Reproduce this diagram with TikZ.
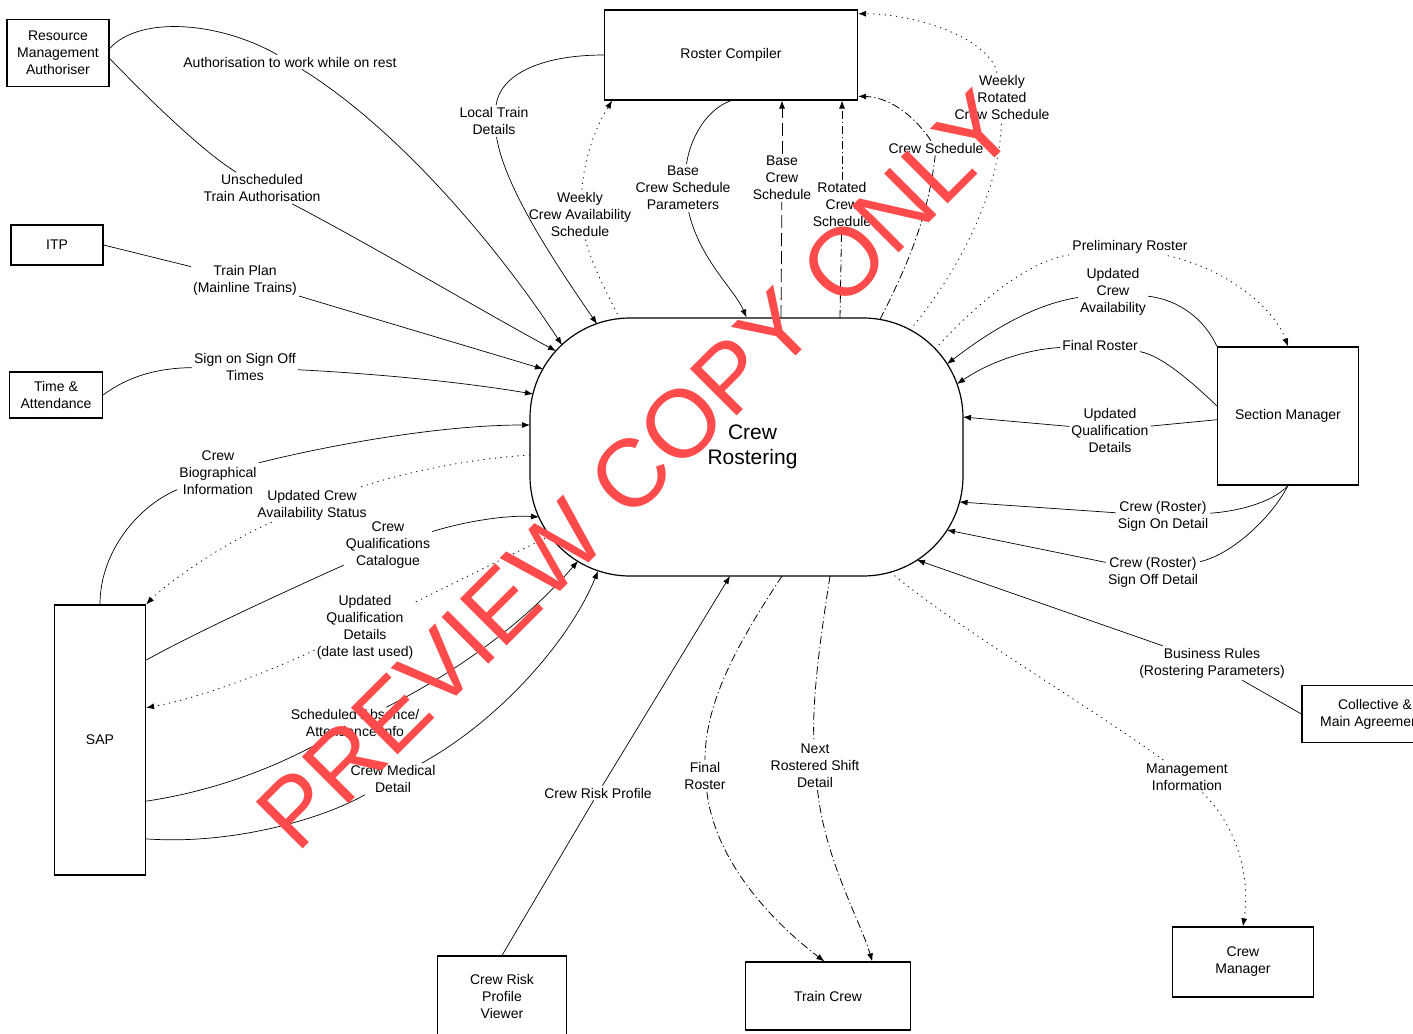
\documentclass[tikz,border=0pt]{standalone}
\usepackage{fontspec}
\setmainfont{Liberation Sans}
\usetikzlibrary{arrows.meta,calc}
\definecolor{wmred}{RGB}{255,75,75}
\begin{document}
\begin{tikzpicture}[x=1pt,y=-1pt,
  box/.style={draw,line width=1.2pt,align=center,inner sep=2pt,font=\fontsize{14}{17}\selectfont},
  flowlbl/.style={align=center,inner sep=2pt,font=\fontsize{14}{17}\selectfont},
  solidline/.style={line width=0.7pt},
  dotline/.style={line width=0.8pt,dash pattern=on 1.2pt off 4.5pt},
  dashdotline/.style={line width=0.8pt,dash pattern=on 8pt off 3pt on 1.2pt off 3pt},
  dashline/.style={line width=0.8pt,dash pattern=on 13pt off 5pt},
  arrowend/.style={-{Latex[length=8pt,width=6pt]}}]
\useasboundingbox (0,0) rectangle (1413,1033);
\clip (0,0) rectangle (1413,1033);

% terminators
\node [box,name=rma,minimum width=102pt,minimum height=67pt] at (58,53){Resource\\Management\\Authoriser};
\node [box,name=itp,minimum width=92pt,minimum height=40pt] at (57,245){ITP};
\node [box,name=ta,minimum width=93pt,minimum height=46pt] at (56,395){Time \&\\Attendance};
\node [box,name=sap,minimum width=91pt,minimum height=270pt] at (100,740){SAP};
\node [box,name=rc,minimum width=253pt,minimum height=90pt] at (731,55){Roster Compiler};
\node [box,name=sm,minimum width=141pt,minimum height=138pt] at (1288,416){Section Manager};
\node [box,name=cma,minimum width=146pt,minimum height=57pt] at (1375,714){Collective \&\\Main Agreements};
\node [box,name=crpv,minimum width=129pt,minimum height=80pt] at (502,996){Crew Risk\\Profile\\Viewer};
\node [box,name=tc,minimum width=165pt,minimum height=68pt] at (828,996){Train Crew};
\node [box,name=cm,minimum width=141pt,minimum height=70pt] at (1243,962){Crew\\Manager};

% the process
\node [draw,rounded corners=100pt,line width=1.2pt,minimum width=433pt,minimum height=258pt,
  align=center,font=\fontsize{21}{25}\selectfont,name=cr] at (746.5,447){\hspace*{12pt}Crew\\\hspace*{12pt}Rostering};

% flow labels
\node [flowlbl,name=l1] at (290,62){Authorisation to work while on rest};
\node [flowlbl,name=l2] at (262,188){Unscheduled\\Train Authorisation};
\node [flowlbl,name=l3] at (245,280){Train Plan\\(Mainline Trains)};
\node [flowlbl,name=l4] at (245,367){Sign on Sign Off\\Times};
\node [flowlbl,name=l5] at (218,473){Crew\\Biographical\\Information};
\node [flowlbl,name=l6] at (312,505){Updated Crew\\Availability Status};
\node [flowlbl,name=l7] at (388,545){Crew\\Qualifications\\Catalogue};
\node [flowlbl,name=l8] at (365,627){Updated\\Qualification\\Details\\(date last used)};
\node [flowlbl,name=l9] at (355,723){Scheduled Absence/\\Attendance Info};
\node [flowlbl,name=l10] at (393,779){Crew Medical\\Detail};
\node [flowlbl,name=l11] at (598,793){Crew Risk Profile};
\node [flowlbl,name=l12] at (705,776){Final\\Roster};
\node [flowlbl,name=l13] at (815,766){Next\\Rostered Shift\\Detail};
\node [flowlbl,name=l14] at (1187,777){Management\\Information};
\node [flowlbl,name=l15] at (1212,663){Business Rules\\(Rostering Parameters)};
\node [flowlbl,name=l16] at (1153,572){Crew (Roster)\\Sign Off Detail};
\node [flowlbl,name=l17] at (1163,516){Crew (Roster)\\Sign On Detail};
\node [flowlbl,name=l18] at (1110,430){Updated\\Qualification\\Details};
\node [flowlbl,name=l19] at (1100,345){Final Roster};
\node [flowlbl,name=l20] at (1113,292){Updated\\Crew\\Availability};
\node [flowlbl,name=l21] at (1130,247){Preliminary Roster};
\node [flowlbl,name=l22] at (1002,97){Weekly\\Rotated\\Crew Schedule};
\node [flowlbl,name=l23] at (936,148){Crew Schedule};
\node [flowlbl,name=l24] at (842,204){Rotated\\Crew\\Schedule};
\node [flowlbl,name=l25] at (782,178){Base\\Crew\\Schedule};
\node [flowlbl,name=l26] at (683,188){Base\\Crew Schedule\\Parameters};
\node [flowlbl,name=l27] at (580,214){Weekly\\Crew Availability\\Schedule};
\node [flowlbl,name=l28] at (494,121){Local Train\\Details};

% left side flows
\draw[solidline] (rma.5) .. controls (140,15) and (220,22) .. (l1);
\draw[solidline,arrowend] (l1) .. controls (400,130) and (500,250) .. ($(cr)+(-184.5,-102)$);
\draw[solidline] (rma.-6) .. controls (140,90) and (200,150) .. (l2);
\draw[solidline,arrowend] (l2) .. controls (380,250) and (480,310) .. ($(cr)+(-190.5,-96)$);
\draw[solidline] (itp.east)--(l3);
\draw[solidline,arrowend] (l3)--($(cr)+(-203.5,-78)$);
\draw[solidline] (ta.east) .. controls (130,375) and (160,368) .. (l4);
\draw[solidline,arrowend] (l4) .. controls (400,375) and (480,385) .. ($(cr)+(-213.5,-53)$);
\draw[solidline] (sap.north) .. controls (100,550) and (140,505) .. (l5);
\draw[solidline,arrowend] (l5) .. controls (330,445) and (440,425) .. ($(cr)+(-216.5,-22)$);
\draw[dotline] ($(cr)+(-216.5,8)$) .. controls (450,460) and (380,480) .. (l6);
\draw[dotline,arrowend] (l6) .. controls (230,540) and (170,580) .. (sap.north east);
\draw[solidline] (sap.60) .. controls (200,630) and (300,585) .. (l7);
\draw[solidline,arrowend] (l7) .. controls (470,520) and (510,515) .. ($(cr)+(-207.5,70)$);
\draw[dotline] ($(cr)+(-196.5,89)$) .. controls (500,560) and (450,585) .. (l8);
\draw[dotline,arrowend] (l8) .. controls (250,680) and (190,700) .. (sap.35);
\draw[solidline] (sap.-53) .. controls (220,790) and (280,765) .. (l9);
\draw[solidline,arrowend] (l9) .. controls (480,660) and (540,605) .. ($(cr)+(-168.5,114)$);
\draw[solidline] (sap.-65) .. controls (230,845) and (320,820) .. (l10);
\draw[solidline,arrowend] (l10) .. controls (500,720) and (570,640) .. ($(cr)+(-148.5,124)$);

% top flows
\draw[solidline] (rc.west) .. controls (540,55) and (500,75) .. (l28);
\draw[solidline,arrowend] (l28) .. controls (505,190) and (560,270) .. ($(cr)+(-149.5,-123)$);
\draw[dotline] ($(cr)+(-126.5,-128)$) .. controls (605,290) and (590,260) .. (l27);
\draw[dotline,arrowend] (l27) .. controls (585,150) and (600,120) .. (rc.-159);
\draw[solidline] (rc.south) .. controls (705,110) and (690,140) .. (l26);
\draw[solidline,arrowend] (l26) .. controls (700,260) and (735,290) .. (cr.north);
\draw[dashline] ($(cr)+(34.5,-129)$)--(l25);
\draw[dashline,arrowend] (l25)--(l25 |- rc.south);
\draw[dashdotline] ($(cr)+(93.5,-129)$)--(l24);
\draw[dashdotline,arrowend] (l24)--(l24 |- rc.south);
\draw[dashdotline] ($(cr)+(133.5,-127.5)$) .. controls (905,270) and (928,220) .. (l23);
\draw[dashdotline,arrowend] (l23) .. controls (910,110) and (885,97) .. (rc.-18);
\draw[dotline] ($(cr)+(163.5,-117)$) .. controls (960,270) and (1000,190) .. (l22);
\draw[dotline,arrowend] (l22) .. controls (990,40) and (920,14) .. (rc.18);

% right side flows
\draw[dotline] ($(cr)+(188.5,-98)$) .. controls (980,300) and (1030,260) .. (l21);
\draw[dotline,arrowend] (l21) .. controls (1230,270) and (1275,310) .. (sm.north);
\draw[solidline] (sm.north west) .. controls (1205,320) and (1180,300) .. (l20);
\draw[solidline,arrowend] (l20) .. controls (1030,305) and (985,335) .. ($(cr)+(200.5,-83)$);
\draw[solidline] (sm.172) .. controls (1190,380) and (1160,355) .. (l19);
\draw[solidline,arrowend] (l19) .. controls (1020,350) and (985,365) .. ($(cr)+(210.5,-63)$);
\draw[solidline] (sm.183)--(l18);
\draw[solidline,arrowend] (l18)--($(cr)+(216.5,-30)$);
\draw[solidline] (sm.south) .. controls (1270,505) and (1230,512) .. (l17);
\draw[solidline,arrowend] (l17)--($(cr)+(213,55)$);
\draw[solidline] (sm.south) .. controls (1270,520) and (1230,555) .. (l16);
\draw[solidline,arrowend] (l16)--($(cr)+(200.5,83)$);
\draw[solidline] (cma.west)--(l15);
\draw[solidline,arrowend] (l15)--($(cr)+(170.5,113)$);

% bottom flows
\draw[dotline] ($(cr)+(143.5,125)$) .. controls (960,630) and (1080,700) .. (l14);
\draw[dotline,arrowend] (l14) .. controls (1240,830) and (1250,880) .. (cm.north);
\draw[dashdotline] ($(cr)+(83.5,129)$) .. controls (820,640) and (812,700) .. (l13);
\draw[dashdotline,arrowend] (l13) .. controls (825,860) and (860,920) .. (tc.38);
\draw[dashdotline] ($(cr)+(35.5,129)$) .. controls (740,640) and (705,700) .. (l12);
\draw[dashdotline,arrowend] (l12) .. controls (715,860) and (770,920) .. (tc.96);
\draw[solidline] (crpv.north)--(l11);
\draw[solidline,arrowend] (l11)--($(cr)+(-16.5,129)$);

% watermark
\node [text=wmred,rotate=45,font=\fontsize{96}{96}\selectfont,name=wm] at (636,470){PREVIEW COPY ONLY};
\end{tikzpicture}
\end{document}
